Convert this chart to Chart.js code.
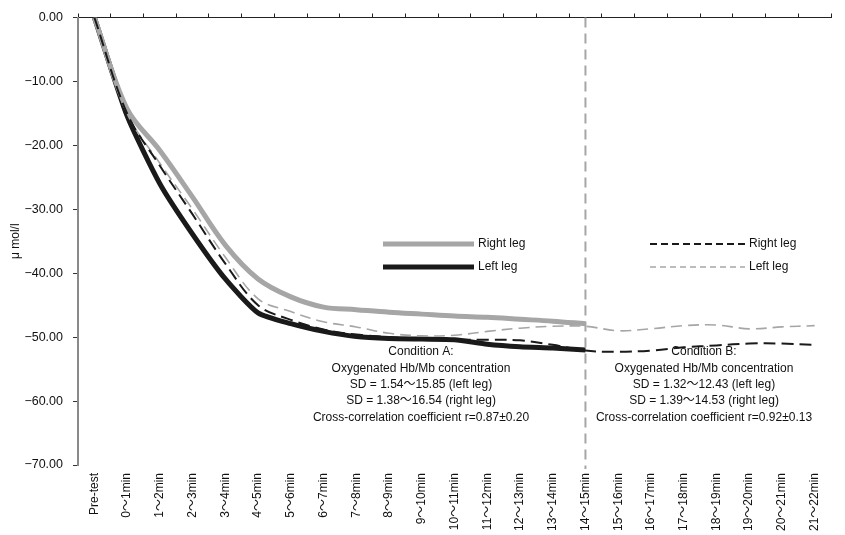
<!DOCTYPE html>
<html>
<head>
<meta charset="utf-8">
<script src="https://cdn.jsdelivr.net/npm/chart.js@4"></script>
<style>
body { margin: 0; background: #fff; }
#wrap { width: 845px; height: 535px; }
</style>
</head>
<body>
<div id="wrap"><canvas id="chart"></canvas></div>
<script>
// categories (time after start)
var labels = ['Pre-test', '0～1min', '1～2min', '2～3min', '3～4min', '4～5min', '5～6min', '6～7min',
    '7～8min', '8～9min', '9～10min', '10～11min', '11～12min', '12～13min', '13～14min', '14～15min',
    '15～16min', '16～17min', '17～18min', '18～19min', '19～20min', '20～21min', '21～22min'];

// Condition A (ends at 14~15min)
var condA_right = [0, -14.3, -20.8, -28.1, -35.6, -40.9, -43.7, -45.3, -45.7, -46.1, -46.4, -46.7, -46.9, -47.2, -47.5, -47.9];
var condA_left = [0, -15.4, -26.0, -33.9, -40.9, -46.2, -47.9, -49.1, -49.9, -50.2, -50.3, -50.4, -51.1, -51.5, -51.7, -52.0];

// Condition B
var condB_right = [0, -15.0, -23.2, -30.8, -38.5, -45.0, -47.3, -48.8, -49.6, -50.0, -50.3, -50.4, -50.4, -50.5, -51.2,
    -52.1, -52.3, -52.1, -51.6, -51.3, -51.0, -51.0, -51.2];
var condB_left = [0, -15.0, -22.8, -30.0, -37.5, -44.0, -46.0, -47.6, -48.4, -49.4, -49.8, -49.7, -49.1, -48.6, -48.3,
    -48.3, -49.0, -48.7, -48.2, -48.1, -48.7, -48.4, -48.2];

var yMin = -70, yMax = 0, yStep = 10;
var splitLabel = '14～15min';

var noteA = ['Condition A:', 'Oxygenated Hb/Mb concentration', 'SD = 1.54～15.85 (left leg)',
    'SD = 1.38～16.54 (right leg)', 'Cross-correlation coefficient r=0.87±0.20'];
var noteB = ['Condition B:', 'Oxygenated Hb/Mb concentration', 'SD = 1.32～12.43 (left leg)',
    'SD = 1.39～14.53 (right leg)', 'Cross-correlation coefficient r=0.92±0.13'];

var GRAY = '#a6a6a6', BLACK = '#1a1a1a';
var FONT = '"Liberation Sans", "Noto Sans CJK JP", sans-serif';

Chart.defaults.font.family = FONT;
Chart.defaults.font.size = 12;
Chart.defaults.color = '#111';

// legends, notes and the dashed separator
var extras = {
    id: 'extras',
    afterDraw: function (chart) {
        var ctx = chart.ctx;
        var x = chart.scales.x, area = chart.chartArea;
        var ds = chart.data.datasets;
        ctx.save();
        // separator
        var sx = x.getPixelForValue(labels.indexOf(splitLabel));
        ctx.strokeStyle = GRAY;
        ctx.lineWidth = 2;
        ctx.setLineDash([10, 6]);
        ctx.beginPath();
        ctx.moveTo(sx, area.top);
        ctx.lineTo(sx, area.bottom + 4);
        ctx.stroke();

        // legend
        var items = [
            [ds[2], 383, 474, 244, 'Right leg'],
            [ds[3], 383, 474, 267, 'Left leg'],
            [ds[0], 650, 745, 244, 'Right leg'],
            [ds[1], 650, 745, 267, 'Left leg']
        ];
        ctx.font = '12px ' + FONT;
        ctx.textBaseline = 'middle';
        ctx.textAlign = 'left';
        items.forEach(function (it) {
            var d = it[0];
            ctx.strokeStyle = d.borderColor;
            ctx.lineWidth = d.borderWidth;
            ctx.setLineDash(d.legendDash || []);
            ctx.beginPath();
            ctx.moveTo(it[1], it[3]);
            ctx.lineTo(it[2], it[3]);
            ctx.stroke();
            ctx.fillStyle = '#111';
            ctx.fillText(it[4], it[2] + 4, it[3]);
        });

        // notes
        ctx.textAlign = 'center';
        noteA.forEach(function (t, i) { ctx.fillText(t, 421, 352 + i * 16.3); });
        noteB.forEach(function (t, i) { ctx.fillText(t, 704, 352 + i * 16.3); });
        ctx.restore();
    }
};

new Chart(document.getElementById('chart'), {
    type: 'line',
    data: {
        labels: labels,
        datasets: [{
            label: 'Condition B right leg',
            data: condB_right,
            borderColor: BLACK,
            borderWidth: 2,
            borderDash: [12, 6],
            legendDash: [7, 4],
            tension: 0.35
        }, {
            label: 'Condition B left leg',
            data: condB_left,
            borderColor: GRAY,
            borderWidth: 1.6,
            borderDash: [11, 6],
            legendDash: [6, 4],
            tension: 0.35
        }, {
            label: 'Condition A right leg',
            data: condA_right,
            borderColor: GRAY,
            borderWidth: 5,
            tension: 0.35
        }, {
            label: 'Condition A left leg',
            data: condA_left,
            borderColor: BLACK,
            borderWidth: 5,
            tension: 0.2
        }]
    },
    options: {
        responsive: true,
        maintainAspectRatio: false,
        animation: false,
        layout: { padding: { left: 2, right: 14, top: 9, bottom: 0 } },
        elements: { point: { radius: 0 }, line: { fill: false, borderCapStyle: 'butt' } },
        plugins: { legend: { display: false }, tooltip: { enabled: false } },
        scales: {
            x: {
                position: 'bottom',
                offset: true,
                grid: { display: false, drawTicks: false, tickLength: 0 },
                border: { display: false },
                afterFit: function (s) { s.height = 70; },
                ticks: { minRotation: 90, maxRotation: 90, padding: 8, autoSkip: false, font: { size: 12 } }
            },
            xTop: {
                type: 'category',
                labels: labels,
                position: 'top',
                offset: true,
                grid: { offset: true, drawOnChartArea: false, tickLength: 4, color: '#222' },
                border: { color: '#222', width: 1 },
                afterFit: function (s) { s.height = 5; },
                ticks: { display: false }
            },
            y: {
                min: yMin,
                max: yMax,
                grid: { drawOnChartArea: false, tickLength: 5, color: '#333' },
                border: { color: '#8a8a8a', width: 2 },
                afterFit: function (s) { s.width = 76; },
                ticks: {
                    stepSize: yStep,
                    padding: 10,
                    font: { size: 12.5 },
                    callback: function (v) { return (v < 0 ? '−' : '') + Math.abs(v).toFixed(2); }
                },
                title: { display: true, text: 'μ mol/l', padding: { top: 6, bottom: 0 }, font: { size: 12 } }
            }
        }
    },
    plugins: [extras]
});
</script>
</body>
</html>
